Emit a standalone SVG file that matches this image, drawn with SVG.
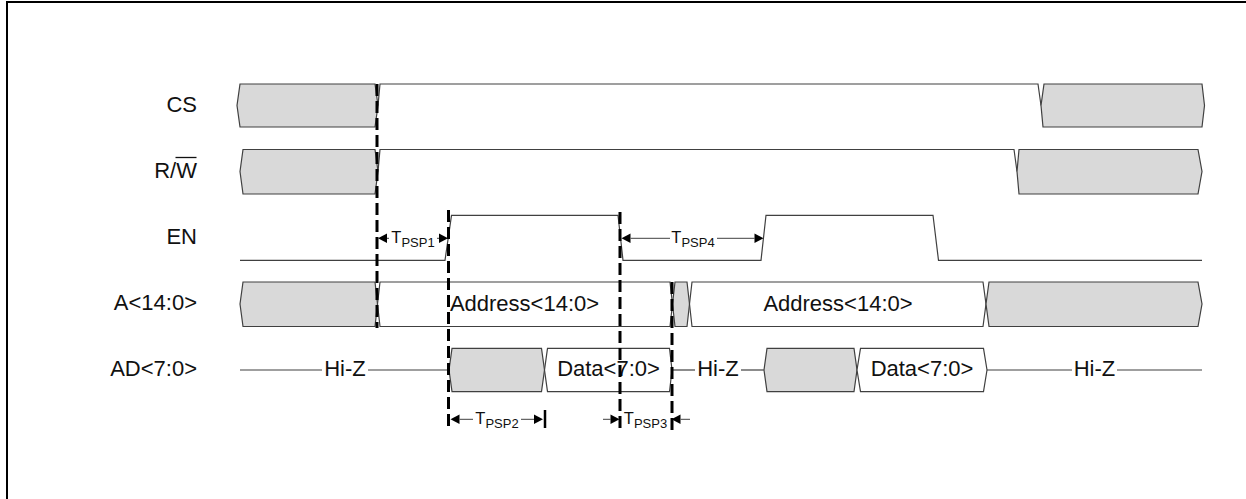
<svg xmlns="http://www.w3.org/2000/svg" width="1246" height="499" viewBox="0 0 1246 499">
<defs>
<style>
.bus{fill:#ffffff;stroke:#404040;stroke-width:1.2;stroke-linejoin:miter}
.grey{fill:#d9d9d9;stroke:#404040;stroke-width:1.2}
.sig{fill:none;stroke:#404040;stroke-width:1.2}
.dash{fill:none;stroke:#000;stroke-width:3;stroke-dasharray:12 5}
.dim{fill:none;stroke:#404040;stroke-width:1}
.ah{fill:#000}
.lbl{font-family:"Liberation Sans",Arial,sans-serif;font-size:22px;fill:#111}
.t{font-family:"Liberation Sans",Arial,sans-serif;font-size:16.5px;fill:#111}
.sub{font-size:13px}
</style>
</defs>
<rect width="1246" height="499" fill="#fff"/>
<path d="M7,499 V2 H1246" fill="none" stroke="#000" stroke-width="2"/>

<g id="labels">
<text class="lbl" x="197" y="111.5" text-anchor="end">CS</text>
<text class="lbl" x="197" y="177.5" text-anchor="end">R/W</text>
<line x1="175.5" y1="157.5" x2="196.5" y2="157.5" stroke="#111" stroke-width="1.3"/>
<text class="lbl" x="197" y="244.3" text-anchor="end">EN</text>
<text class="lbl" x="197" y="310" text-anchor="end">A&lt;14:0&gt;</text>
<text class="lbl" x="197" y="376" text-anchor="end">AD&lt;7:0&gt;</text>
</g>

<g id="cs">
<polygon class="grey" points="240,84 375,84 378,105.5 375,127 240,127 237,105.5"/>
<polyline class="sig" points="378,105.5 380,84 1038,84 1041,105.5"/>
<polygon class="grey" points="1044,84 1202,84 1204.5,105.5 1202,127 1043,127 1041,105.5"/>
</g>

<g id="rw">
<polygon class="grey" points="243,149.5 375,149.5 378,171.5 375,194 243,194 240,171.5"/>
<polyline class="sig" points="378,171.5 380,149.5 1014,149.5 1017,171.5"/>
<polygon class="grey" points="1019,149.5 1198,149.5 1202,171.5 1198,194 1019,194 1017,171.5"/>
</g>

<g id="en">
<polyline class="sig" points="240,260.3 445,260.3 451.5,215.3 618,215.3 623,260.3 761,260.3 766,215.3 933,215.3 938.5,260.3 1202,260.3"/>
</g>

<g id="addr">
<polygon class="grey" points="243,282 375,282 377.5,304 375,326.5 243,326.5 240,304"/>
<polygon class="bus" points="380,282 670,282 672.5,304 670,326.5 380,326.5 377.5,304"/>
<polygon class="grey" points="675,282 687,282 689.5,304 687,326.5 675,326.5 672.5,304"/>
<polygon class="bus" points="692,282 983,282 986,304 983,326.5 692,326.5 689.5,304"/>
<polygon class="grey" points="989,282 1198,282 1202,304 1198,326.5 989,326.5 986,304"/>
<text class="lbl" x="524.5" y="310.5" text-anchor="middle">Address&lt;14:0&gt;</text>
<text class="lbl" x="838" y="310.5" text-anchor="middle">Address&lt;14:0&gt;</text>
</g>

<g id="ad">
<line class="sig" x1="240" y1="370" x2="322" y2="370"/>
<line class="sig" x1="368" y1="370" x2="449" y2="370"/>
<text class="lbl" x="345" y="376" text-anchor="middle">Hi-Z</text>
<polygon class="grey" points="452,348.3 541.5,348.3 544.5,370 541.5,391.7 452,391.7 449,370"/>
<polygon class="bus" points="547.5,348.3 669.5,348.3 672,370 669.5,391.7 547.5,391.7 544.5,370"/>
<text class="lbl" x="608.5" y="376" text-anchor="middle">Data&lt;7:0&gt;</text>
<line class="sig" x1="672" y1="370" x2="695" y2="370"/>
<line class="sig" x1="741" y1="370" x2="764" y2="370"/>
<text class="lbl" x="718" y="376" text-anchor="middle">Hi-Z</text>
<polygon class="grey" points="767,348.3 854,348.3 857,370 854,391.7 767,391.7 764,370"/>
<polygon class="bus" points="860.5,348.3 983.5,348.3 987,370 983.5,391.7 860.5,391.7 857,370"/>
<text class="lbl" x="922" y="376" text-anchor="middle">Data&lt;7:0&gt;</text>
<line class="sig" x1="987" y1="370" x2="1072" y2="370"/>
<line class="sig" x1="1117" y1="370" x2="1202" y2="370"/>
<text class="lbl" x="1094.5" y="376" text-anchor="middle">Hi-Z</text>
</g>

<g id="connectors">
<line class="dash" x1="377" y1="84" x2="377" y2="328"/>
<line class="dash" x1="448.5" y1="210" x2="448.5" y2="430"/>
<line class="dash" x1="620" y1="212" x2="620" y2="428"/>
<line class="dash" x1="672" y1="282" x2="672" y2="430"/>
<line x1="545" y1="410" x2="545" y2="428" stroke="#000" stroke-width="2.5"/>

<!-- TPSP1 -->
<polygon class="ah" points="378,238.3 387,233.5 387,243.1"/>
<line class="dim" x1="387" y1="238.3" x2="389" y2="238.3"/>
<line class="dim" x1="437" y1="238.3" x2="439" y2="238.3"/>
<polygon class="ah" points="448,238.3 439,233.5 439,243.1"/>
<!-- TPSP4 -->
<polygon class="ah" points="621.5,238.3 630.5,233.5 630.5,243.1"/>
<line class="dim" x1="630.5" y1="238.3" x2="670" y2="238.3"/>
<line class="dim" x1="717" y1="238.3" x2="754.5" y2="238.3"/>
<polygon class="ah" points="763.5,238.3 754.5,233.5 754.5,243.1"/>
<!-- TPSP2 -->
<polygon class="ah" points="450.5,419.3 459.5,414.5 459.5,424.1"/>
<line class="dim" x1="459.5" y1="419.3" x2="473" y2="419.3"/>
<line class="dim" x1="521" y1="419.3" x2="534" y2="419.3"/>
<polygon class="ah" points="543,419.3 534,414.5 534,424.1"/>
<!-- TPSP3 -->
<line class="dim" x1="603" y1="419.3" x2="610.5" y2="419.3"/>
<polygon class="ah" points="619.5,419.3 610.5,414.5 610.5,424.1"/>
<polygon class="ah" points="671.5,419.3 680.5,414.5 680.5,424.1"/>
<line class="dim" x1="680.5" y1="419.3" x2="690" y2="419.3"/>
</g>

<g id="timing-labels">
<text class="t" x="413" y="243.3" text-anchor="middle">T<tspan class="sub" dy="3.4">PSP1</tspan></text>
<text class="t" x="693" y="243.3" text-anchor="middle">T<tspan class="sub" dy="3.4">PSP4</tspan></text>
<text class="t" x="497" y="424.3" text-anchor="middle">T<tspan class="sub" dy="3.4">PSP2</tspan></text>
<text class="t" x="645.5" y="424.3" text-anchor="middle">T<tspan class="sub" dy="3.4">PSP3</tspan></text>
</g>
</svg>
